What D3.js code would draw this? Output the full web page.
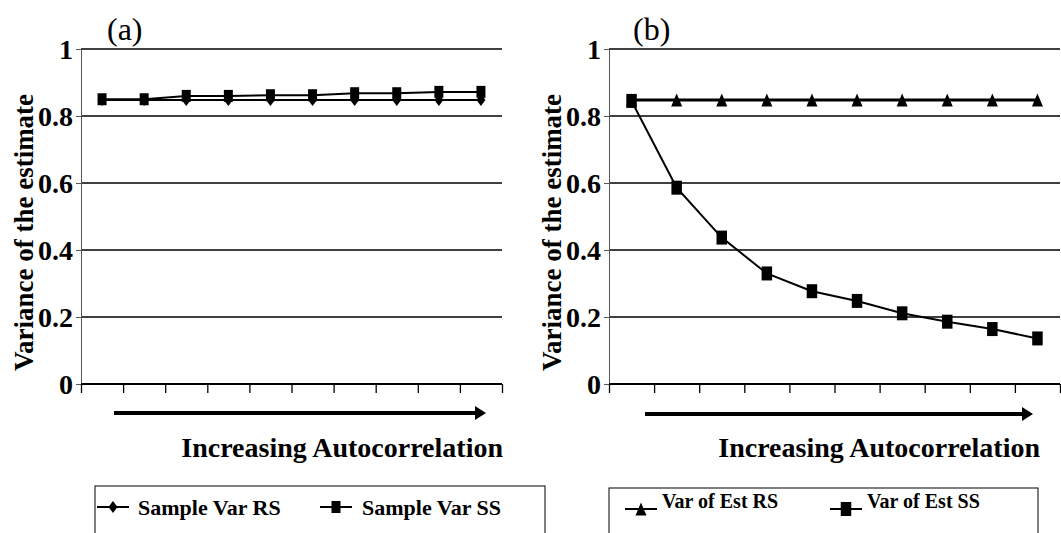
<!DOCTYPE html>
<html>
<head>
<meta charset="utf-8">
<script src="https://cdn.jsdelivr.net/npm/d3@7"></script>
<style>
  html, body { margin: 0; padding: 0; background: #fff; }
  svg { display: block; font-family: "Liberation Serif", "Times New Roman", serif; }
</style>
</head>
<body>
<svg id="chart" width="1061" height="533"></svg>
<script>
// ---- data ----
const categories = ["1", "2", "3", "4", "5", "6", "7", "8", "9", "10"];
const yTicks = [0, 0.2, 0.4, 0.6, 0.8, 1];
const panelLabels = ["(a)", "(b)"];
const yTitle = "Variance of the estimate";
const xTitle = "Increasing Autocorrelation";

const sampleVarRS = [0.848, 0.848, 0.848, 0.848, 0.848, 0.848, 0.848, 0.848, 0.848, 0.848];
const sampleVarSS = [0.85, 0.85, 0.86, 0.86, 0.862, 0.862, 0.868, 0.868, 0.872, 0.872];
const varEstRS = [0.848, 0.848, 0.848, 0.848, 0.848, 0.848, 0.848, 0.848, 0.848, 0.848];
const varEstSS = [0.845, 0.586, 0.437, 0.330, 0.277, 0.248, 0.211, 0.186, 0.164, 0.136];

const seriesNamesA = ["Sample Var RS", "Sample Var SS"];
const seriesNamesB = ["Var of Est RS", "Var of Est SS"];

// ---- layout ----
const svg = d3.select("#chart");
const yTop = 49, yBottom = 384;

const panels = [
  {
    label: panelLabels[0], x0: 81, x1: 502, labelX: 107,
    series: [
      { name: seriesNamesA[0], values: sampleVarRS, marker: "diamond", lw: 2, mw: 9, mh: 12 },
      { name: seriesNamesA[1], values: sampleVarSS, marker: "square", lw: 2, mw: 9, mh: 12 }
    ],
    arrow: [114, 486], arrowY: 413, titleX: 503,
    legend: { x: 95, y: 486, w: 450, font: 22,
      items: [{ sx: 97, tx: 138 }, { sx: 320, tx: 362 }], textDy: 0 }
  },
  {
    label: panelLabels[1], x0: 609, x1: 1060, labelX: 633,
    series: [
      { name: seriesNamesB[0], values: varEstRS, marker: "triangle", lw: 3, mw: 11, mh: 13 },
      { name: seriesNamesB[1], values: varEstSS, marker: "square", lw: 2, mw: 10.5, mh: 14 }
    ],
    arrow: [645, 1033], arrowY: 414, titleX: 1040,
    legend: { x: 609, y: 488, w: 429, font: 20,
      items: [{ sx: 625, tx: 662 }, { sx: 830, tx: 867 }], textDy: -8 }
  }
];

const y = d3.scaleLinear().domain([0, 1]).range([yBottom, yTop]);

function markerPath(type, w, h) {
  const a = w / 2, b = h / 2;
  if (type === "square") return `M${-a},${-b}H${a}V${b}H${-a}Z`;
  if (type === "diamond") return `M0,${-b}L${a},0L0,${b}L${-a},0Z`;
  if (type === "triangle") return `M0,${-b}L${a},${b}L${-a},${b}Z`;
  return "";
}

panels.forEach(p => {
  const g = svg.append("g");
  const x = d3.scaleBand().domain(categories).range([p.x0, p.x1]);
  const xIdx = d3.scaleLinear().domain([0, categories.length]).range([p.x0, p.x1]);

  // gridlines
  g.append("g").selectAll("line").data(yTicks.filter(t => t > 0)).join("line")
    .attr("x1", p.x0).attr("x2", p.x1)
    .attr("y1", d => y(d)).attr("y2", d => y(d))
    .attr("stroke", "#000").attr("stroke-width", 1.4);

  // y axis
  const yAxis = g.append("g").attr("transform", `translate(${p.x0},0)`)
    .call(d3.axisLeft(y).tickValues(yTicks).tickSize(5).tickPadding(3)
      .tickFormat(d => d === 0 ? "0" : d === 1 ? "1" : d3.format(".1f")(d)));
  yAxis.attr("font-family", null);
  yAxis.select(".domain").attr("stroke", "#555").attr("stroke-width", 1);
  yAxis.selectAll(".tick line").attr("stroke", "#555");
  yAxis.selectAll("text").attr("font-size", 28).attr("font-weight", "bold")
    .attr("fill", "#000").attr("dy", "0.34em");

  // x axis (category boundary ticks)
  const xAxis = g.append("g").attr("transform", `translate(0,${yBottom})`)
    .call(d3.axisBottom(xIdx).ticks(categories.length).tickSize(9).tickFormat(""));
  xAxis.select(".domain").attr("stroke", "#000").attr("stroke-width", 2).attr("d", `M${p.x0},0H${p.x1}`);
  xAxis.selectAll(".tick line").attr("stroke", "#000").attr("stroke-width", 1.3);

  // series
  const cx = c => x(c) + x.bandwidth() / 2;
  p.series.forEach(s => {
    const line = d3.line().x((d, i) => cx(categories[i])).y(d => y(d));
    g.append("path").datum(s.values).attr("d", line)
      .attr("fill", "none").attr("stroke", "#000").attr("stroke-width", s.lw);
  });
  p.series.forEach(s => {
    g.append("g").selectAll("path").data(s.values).join("path")
      .attr("transform", (d, i) => `translate(${cx(categories[i])},${y(d)})`)
      .attr("d", markerPath(s.marker, s.mw, s.mh)).attr("fill", "#000");
  });

  // panel label
  g.append("text").attr("x", p.labelX).attr("y", 40)
    .attr("font-size", 32).attr("fill", "#000").text(p.label);

  // y title
  g.append("text")
    .attr("transform", `translate(${p.x0 - 48},${(yTop + yBottom) / 2 + 16}) rotate(-90)`)
    .attr("text-anchor", "middle").attr("font-size", 27).attr("font-weight", "bold")
    .text(yTitle);

  // arrow
  const ah = 11;
  g.append("line").attr("x1", p.arrow[0]).attr("x2", p.arrow[1] - ah + 1)
    .attr("y1", p.arrowY).attr("y2", p.arrowY).attr("stroke", "#000").attr("stroke-width", 4);
  g.append("path").attr("d", `M${p.arrow[1]},${p.arrowY}L${p.arrow[1] - ah},${p.arrowY - 7}L${p.arrow[1] - ah},${p.arrowY + 7}Z`)
    .attr("fill", "#000");

  // x title
  g.append("text").attr("x", p.titleX).attr("y", 457).attr("text-anchor", "end")
    .attr("font-size", 28).attr("font-weight", "bold").text(xTitle);

  // legend
  const L = p.legend;
  g.append("rect").attr("x", L.x).attr("y", L.y).attr("width", L.w).attr("height", 80)
    .attr("fill", "none").attr("stroke", "#000").attr("stroke-width", 1);
  const ly = L.y + 21;
  p.series.forEach((s, i) => {
    const it = L.items[i];
    g.append("line").attr("x1", it.sx).attr("x2", it.sx + 32).attr("y1", ly).attr("y2", ly)
      .attr("stroke", "#000").attr("stroke-width", 2);
    g.append("path").attr("transform", `translate(${it.sx + 16},${ly})`)
      .attr("d", markerPath(s.marker, s.mw, s.mh)).attr("fill", "#000");
    g.append("text").attr("x", it.tx).attr("y", ly + L.textDy).attr("dy", "0.35em")
      .attr("font-size", L.font).attr("font-weight", "bold").text(s.name);
  });
});
</script>
</body>
</html>
